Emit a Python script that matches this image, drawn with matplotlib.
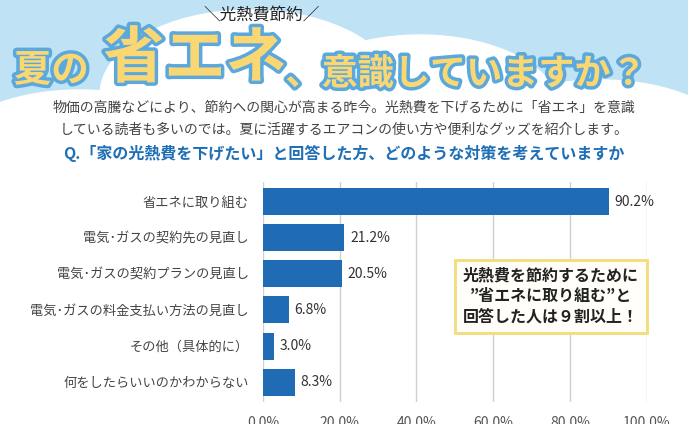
import matplotlib.pyplot as plt
import matplotlib.patheffects as pe
from matplotlib.patches import Ellipse, Rectangle

plt.rcParams["font.family"] = "Noto Sans CJK JP"

categories = [
    "省エネに取り組む",
    "電気･ガスの契約先の見直し",
    "電気･ガスの契約プランの見直し",
    "電気･ガスの料金支払い方法の見直し",
    "その他（具体的に）",
    "何をしたらいいのかわからない",
]
values = [90.2, 21.2, 20.5, 6.8, 3.0, 8.3]
ticks = [0, 20, 40, 60, 80, 100]

fig = plt.figure(figsize=(6.88, 4.24), dpi=100)

# header background: sky with clouds
bg = fig.add_axes([0, 0, 1, 1], zorder=0)
bg.set_xlim(0, 688)
bg.set_ylim(424, 0)
bg.axis("off")
bg.add_patch(Rectangle((0, 0), 688, 150, color="#bfe3f5"))
for cx, cy, w, h in [(80, 150, 260, 120), (250, 95, 300, 170), (420, 110, 280, 150),
                     (600, 140, 260, 120), (330, 150, 700, 80)]:
    bg.add_patch(Ellipse((cx, cy), w, h, color="white"))
bg.add_patch(Rectangle((0, 150), 688, 274, color="white"))

outline = [pe.withStroke(linewidth=5, foreground="#5ba9dc")]
fig.text(0.38, 0.985, "＼光熱費節約／", fontsize=12, ha="center", va="top", color="#222222")
fig.text(0.02, 0.835, "夏の", fontsize=27, fontweight="bold", color="#fbd774",
         va="center", path_effects=outline)
fig.text(0.15, 0.86, "省エネ", fontsize=44, fontweight="bold", color="#fbd774",
         va="center", path_effects=outline)
fig.text(0.415, 0.825, "、意識していますか？", fontsize=26, fontweight="bold", color="#fbd774",
         va="center", path_effects=outline)
fig.text(0.5, 0.745, "物価の高騰などにより、節約への関心が高まる昨今。光熱費を下げるために「省エネ」を意識",
         fontsize=10, ha="center", va="center", color="#444444")
fig.text(0.5, 0.695, "している読者も多いのでは。夏に活躍するエアコンの使い方や便利なグッズを紹介します。",
         fontsize=10, ha="center", va="center", color="#444444")
fig.text(0.5, 0.637, "Q.「家の光熱費を下げたい」と回答した方、どのような対策を考えていますか",
         fontsize=11.5, fontweight="bold", ha="center", va="center", color="#1f6fb6")

ax = fig.add_axes([0.382, 0.052, 0.558, 0.519], zorder=1)
ax.patch.set_alpha(0)
y = range(len(categories))
bars = ax.barh(y, values, height=0.75, color="#1f6cb5", zorder=3)
ax.set_ylim(len(categories) - 0.45, -0.55)
ax.set_xlim(0, 100)
ax.set_xticks(ticks)
ax.set_xticklabels([f"{t:.1f}%" for t in ticks], fontsize=10, color="#555555")
ax.set_yticks(list(y))
ax.set_yticklabels(categories, fontsize=9.5, color="#444444")
ax.tick_params(length=0, pad=10)
ax.grid(axis="x", color="#d0d0d0", linewidth=1, zorder=0)
for s in ax.spines.values():
    s.set_visible(False)
for b, v in zip(bars, values):
    ax.text(v + 1.5, b.get_y() + b.get_height() / 2, f"{v:.1f}%", va="center",
            fontsize=10, color="#333333")

ax.text(0.75, 0.48, "光熱費を節約するために\n”省エネに取り組む”と\n回答した人は９割以上！",
        transform=ax.transAxes, ha="center", va="center", fontsize=11.5,
        fontweight="bold", color="#222222", linespacing=1.35, zorder=5,
        bbox=dict(boxstyle="square,pad=0.5", fc="#fffef8", ec="#f3dc7a", lw=2))

fig.savefig("out.png", dpi=100)
